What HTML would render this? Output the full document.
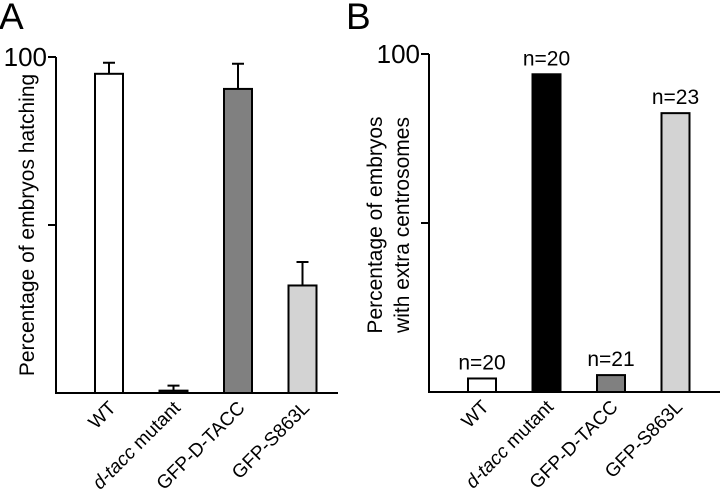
<!DOCTYPE html>
<html><head><meta charset="utf-8"><style>
body{margin:0;background:#fff;width:720px;height:497px;overflow:hidden}
text{font-family:"Liberation Sans","DejaVu Sans",sans-serif;fill:#000}
</style></head><body>
<svg id="svg" width="720" height="497" viewBox="0 0 720 497">
<text x="-1" y="29" font-size="37">A</text>
<text x="346" y="29" font-size="37">B</text>
<g id="ga"></g>
<g id="gb"></g>
</svg>
<script>
const categories=["WT","d-tacc mutant","GFP-D-TACC","GFP-S863L"];
const hatchValues=[95,0.7,90.5,32];
const hatchErrors=[3.3,1.5,7.5,7];
const centroValues=[4,94,5,82.5];
const centroN=["n=20","n=20","n=21","n=23"];
const fillsA=["#fff","#111","#808080","#d3d3d3"];
const fillsB=["#fff","#000","#808080","#d3d3d3"];
const NS="http://www.w3.org/2000/svg";
function mk(p,t,a){const e=document.createElementNS(NS,t);for(const k in a)e.setAttribute(k,a[k]);p.appendChild(e);return e;}
function chart(g,cfg){
  const y=v=>cfg.y0-(cfg.y0-cfg.y100)*v/100;
  const x=i=>cfg.x0+cfg.first+i*cfg.step;
  const ax=mk(g,'path',{d:`M${cfg.x0} ${cfg.y100}V${cfg.y0}H${cfg.xEnd}M${cfg.x0-8} ${cfg.y100}H${cfg.x0}M${cfg.x0-8} ${y(50)}H${cfg.x0}`,stroke:'#000','stroke-width':2,fill:'none'});
  
  const t=mk(g,'text',{x:cfg.x0-9,y:cfg.y100+9,'font-size':26,'text-anchor':'end'});t.textContent='100';
  
  const yt=mk(g,'text',{transform:`translate(${cfg.tx},${cfg.ty}) rotate(-90)`,'font-size':21,'text-anchor':'middle'});
  
  cfg.title.forEach((s,k)=>{const ts=mk(yt,'tspan',{x:0,dy:k?27:0});ts.textContent=s;});
  cfg.values.forEach((v,i)=>{
    const cx=x(i),w=28;
    if(cfg.errors){const e=mk(g,'path',{d:`M${cx} ${y(v)}V${y(v+cfg.errors[i])}M${cx-6} ${y(v+cfg.errors[i])}H${cx+6}`,stroke:'#000','stroke-width':2});
      }
    const r=mk(g,'rect',{x:cx-w/2,y:y(v),width:w,height:Math.max(cfg.y0-y(v),1),fill:cfg.fills[i],stroke:'#000','stroke-width':2});
    
    if(cfg.n){const n=mk(g,'text',{x:cx,y:y(v)-9,'font-size':21,'text-anchor':'middle'});n.textContent=cfg.n[i];
      }
    const l=mk(g,'text',{transform:`translate(${cx+8},${cfg.y0+16}) rotate(-45)`,'font-size':19,'text-anchor':'end'});
    
    if(i==1){const a=mk(l,'tspan',{'font-style':'italic'});a.textContent='d-tacc';const b=mk(l,'tspan',{});b.textContent=' mutant';}
    else l.textContent=categories[i];
  });
}
chart(document.getElementById('ga'),{x0:56,xEnd:338,y0:393,y100:57,first:53,step:64.5,values:hatchValues,errors:hatchErrors,fills:fillsA,tx:34,ty:225,title:["Percentage of embryos hatching"]});
chart(document.getElementById('gb'),{x0:429,xEnd:720,y0:392,y100:54,first:53,step:64.5,values:centroValues,fills:fillsB,n:centroN,tx:382,ty:225,title:["Percentage of embryos","with extra centrosomes"]});
</script>
</body></html>
